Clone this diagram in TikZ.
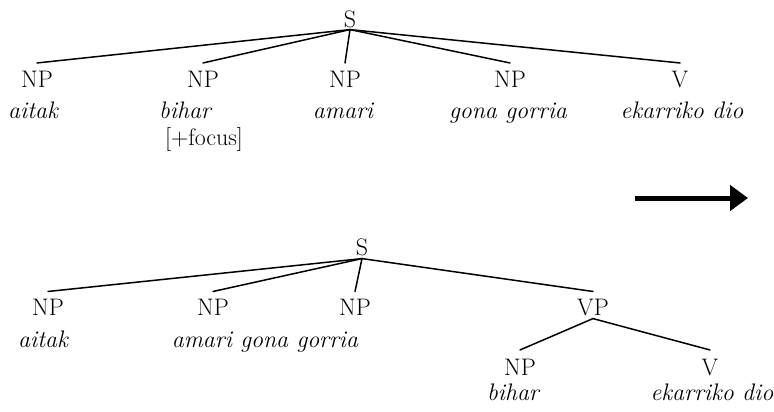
\documentclass[tikz,border=0pt]{standalone}
\usetikzlibrary{arrows.meta}
\begin{document}
\begin{tikzpicture}[x=1bp,y=-1bp,
  every node/.style={inner sep=0pt,anchor=base,font=\fontsize{24}{28}\selectfont},
  cat/.style={},
  word/.style={font=\fontsize{24}{28}\selectfont\itshape},
  edge/.style={line width=1.5bp,line cap=round}]
\useasboundingbox (0,0) rectangle (774,411);
% ---------- top tree ----------
\node[cat] (S1) at (350,27) {S};
\node[cat] (a1) at (37,87) {NP};
\node[cat] (a2) at (203,87) {NP};
\node[cat] (a3) at (345,87) {NP};
\node[cat] (a4) at (510,87) {NP};
\node[cat] (a5) at (680,87) {V};
\node[word] (w1) at (33,118) {aitak};
\node[word] (w2) at (185,118) {bihar};
\node (w2b) at (204,145) {[+focus]};
\node[word] (w3) at (343,118) {amari};
\node[word] (w4) at (508,118) {gona gorria};
\node[word] (w5) at (682,118) {ekarriko dio};
\foreach \n in {a1,a2,a3,a4,a5}
  \draw[edge] ([yshift=-2bp]S1.south) -- ([yshift=7.5bp]\n.north);
% ---------- arrow ----------
\coordinate (arrS) at (635,198);
\coordinate (arrE) at (748,198);
\draw[line width=5bp,-{Triangle[length=18bp,width=25bp]}] (arrS) -- (arrE);
% ---------- bottom tree ----------
\node[cat] (S2) at (362,255) {S};
\node[cat] (b1) at (48,315) {NP};
\node[cat] (b2) at (213,315) {NP};
\node[cat] (b3) at (355,315) {NP};
\node[cat] (vp) at (593,315) {VP};
\node[cat] (c1) at (520,375) {NP};
\node[cat] (c2) at (710,375) {V};
\node[word] (x1) at (43,347) {aitak};
\node[word] (x2) at (265,347) {amari gona gorria};
\node[word] (x3) at (513,400) {bihar};
\node[word] (x4) at (712,400) {ekarriko dio};
\foreach \n in {b1,b2,b3,vp}
  \draw[edge] ([yshift=-3bp]S2.south) -- ([yshift=7bp]\n.north);
\foreach \n in {c1,c2}
  \draw[edge] ([yshift=-3bp]vp.south) -- ([yshift=8.5bp]\n.north);
\end{tikzpicture}
\end{document}
